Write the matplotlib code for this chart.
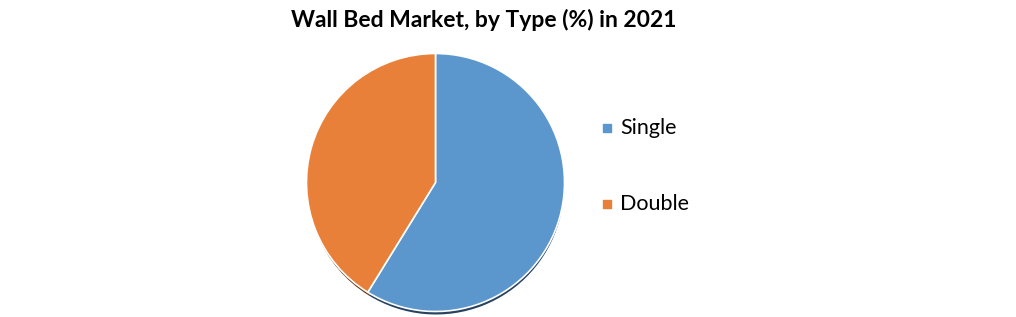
import numpy as np
import matplotlib.pyplot as plt

# dane
types = ['Single', 'Double']
shares = [58.8, 41.2]
colors = ['#5B97CD', '#E8803A']
shadow_colors = ['#27435F', '#6B3A16']

W, H = 1016, 317
fig = plt.figure(figsize=(W / 100, H / 100), dpi=100)
ax = fig.add_axes([0, 0, 1, 1])
ax.set_xlim(0, W)
ax.set_ylim(0, H)
ax.set_aspect('equal')
ax.axis('off')

cx, cy, r = 435.5, H - 182.5, 129

# cień pod kołem
ax.pie(shares, colors=shadow_colors, startangle=90, counterclock=False,
       radius=r - 1, center=(cx + 0.5, cy - 4),
       wedgeprops=dict(linewidth=0))
ax.pie(shares, colors=colors, startangle=90, counterclock=False,
       radius=r, center=(cx, cy),
       wedgeprops=dict(edgecolor='white', linewidth=1.2))
ax.set_xlim(0, W)
ax.set_ylim(0, H)

fig.text(484 / W, 1 - 20 / H, 'Wall Bed Market, by Type (%) in 2021',
         ha='center', va='center', fontsize=16.5, fontweight='bold',
         family='Lato')

# legenda
for i, (lab, col) in enumerate(zip(types, colors)):
    y = H - 128 - i * 76
    ax.scatter([607], [y], marker='s', s=36, color=col)
    ax.text(620, y, lab, va='center', ha='left', fontsize=15.5, family='Lato')

fig.savefig('out.png', dpi=100)
